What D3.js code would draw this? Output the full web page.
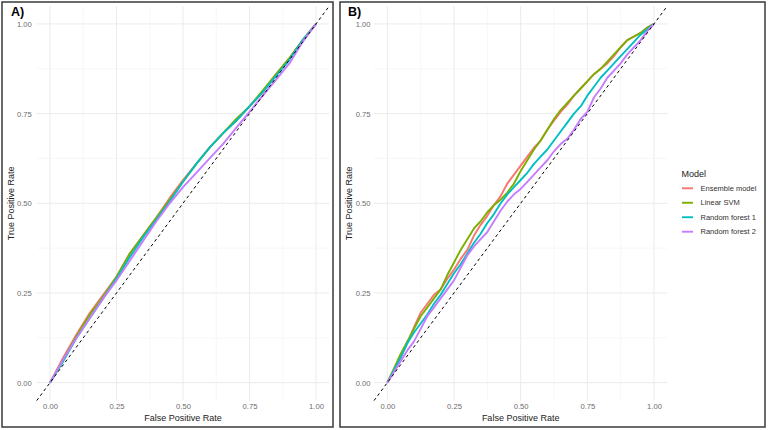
<!DOCTYPE html>
<html><head><meta charset="utf-8">
<script src="https://cdn.jsdelivr.net/npm/d3@7"></script>
<style>body{margin:0;background:#fff} svg{display:block}</style>
</head><body><svg id="c" width="768" height="430"></svg>
<script>
// ---- data ----
const models = ["Ensemble model", "Linear SVM", "Random forest 1", "Random forest 2"];
const colors = ["#F8766D", "#7CAE00", "#00BFC4", "#C77CFF"];
const tickValues = [0, 0.25, 0.5, 0.75, 1];
const tickLabels = ["0.00", "0.25", "0.50", "0.75", "1.00"];
const minorTicks = [0.125, 0.375, 0.625, 0.875];

// Panel A
const fprA = [0,.05,.1,.15,.2,.25,.3,.35,.4,.45,.5,.55,.6,.65,.7,.75,.8,.85,.9,.95,1];
const ensA = [0,.07,.135,.195,.245,.295,.36,.41,.46,.515,.565,.61,.655,.695,.73,.77,.81,.86,.905,.955,1];
const svmA = [0,.065,.13,.19,.24,.295,.36,.41,.46,.51,.56,.61,.655,.695,.735,.77,.815,.86,.905,.955,1];
const rf1A = [0,.06,.125,.18,.235,.29,.35,.405,.455,.505,.56,.61,.655,.695,.73,.77,.81,.855,.90,.955,1];
const rf2A = [0,.065,.125,.18,.235,.285,.34,.395,.45,.50,.545,.585,.625,.665,.71,.755,.80,.845,.89,.95,1];

// Panel B
const fprB = [0,.025,.05,.075,.1,.125,.15,.175,.2,.225,.25,.275,.3,.325,.35,.375,.4,.425,.45,.475,.5,
              .525,.55,.575,.6,.625,.65,.675,.7,.725,.75,.775,.8,.825,.85,.875,.9,.925,.95,.975,1];
const ensB = [0,.035,.07,.11,.155,.195,.22,.245,.26,.29,.315,.345,.37,.41,.44,.465,.495,.52,.555,.58,.605,
              .63,.655,.675,.705,.73,.755,.775,.80,.82,.84,.86,.875,.89,.91,.935,.955,.965,.975,.99,1];
const svmB = [0,.04,.08,.115,.15,.185,.21,.235,.26,.30,.335,.37,.40,.43,.45,.475,.495,.51,.53,.555,.59,
              .62,.65,.675,.705,.735,.76,.78,.80,.82,.84,.86,.875,.895,.915,.935,.955,.965,.975,.99,1];
const rf1B = [0,.035,.07,.11,.14,.165,.19,.22,.245,.275,.305,.33,.36,.39,.415,.445,.47,.50,.525,.545,.565,
              .585,.61,.63,.65,.675,.70,.725,.75,.77,.80,.825,.85,.87,.89,.91,.93,.95,.97,.985,1];
const rf2B = [0,.03,.06,.09,.115,.15,.185,.21,.235,.26,.285,.32,.355,.38,.40,.42,.45,.48,.505,.525,.54,
              .56,.58,.60,.62,.645,.665,.68,.705,.735,.755,.795,.82,.85,.87,.89,.915,.935,.955,.98,1];

const seriesA = [ensA, svmA, rf1A, rf2A];
const seriesB = [ensB, svmB, rf1B, rf2B];

// ---- drawing ----
const svg = d3.select("#c");
const FONT = "'Liberation Sans', Arial, Helvetica, sans-serif";

function panel(cfg) {
  const g = svg.append("g");
  g.append("rect").attr("x", cfg.box[0]).attr("y", cfg.box[1])
    .attr("width", cfg.box[2] - cfg.box[0]).attr("height", cfg.box[3] - cfg.box[1])
    .attr("fill", "#fff").attr("stroke", "#3a3a3a").attr("stroke-width", 1.5);

  const x = d3.scaleLinear().domain([-0.05, 1.05]).range(cfg.xr);
  const y = d3.scaleLinear().domain([-0.05, 1.05]).range(cfg.yr);

  // minor grid
  g.append("g").selectAll("line").data(minorTicks).join("line")
    .attr("x1", d => x(d)).attr("x2", d => x(d)).attr("y1", cfg.yr[0]).attr("y2", cfg.yr[1])
    .attr("stroke", "#f2f2f2").attr("stroke-width", 0.6);
  g.append("g").selectAll("line").data(minorTicks).join("line")
    .attr("y1", d => y(d)).attr("y2", d => y(d)).attr("x1", cfg.xr[0]).attr("x2", cfg.xr[1])
    .attr("stroke", "#f2f2f2").attr("stroke-width", 0.6);
  // major grid
  g.append("g").selectAll("line").data(tickValues).join("line")
    .attr("x1", d => x(d)).attr("x2", d => x(d)).attr("y1", cfg.yr[0]).attr("y2", cfg.yr[1])
    .attr("stroke", "#ebebeb").attr("stroke-width", 1);
  g.append("g").selectAll("line").data(tickValues).join("line")
    .attr("y1", d => y(d)).attr("y2", d => y(d)).attr("x1", cfg.xr[0]).attr("x2", cfg.xr[1])
    .attr("stroke", "#ebebeb").attr("stroke-width", 1);

  // axes
  const xa = g.append("g").attr("transform", `translate(0,${cfg.yr[0]})`)
    .call(d3.axisBottom(x).tickValues(tickValues).tickFormat((d, i) => tickLabels[i]).tickSize(0).tickPadding(3));
  const ya = g.append("g").attr("transform", `translate(${cfg.xr[0]},0)`)
    .call(d3.axisLeft(y).tickValues(tickValues).tickFormat((d, i) => tickLabels[i]).tickSize(0).tickPadding(cfg.ypad));
  [xa, ya].forEach(a => {
    a.select(".domain").remove();
    a.selectAll("text").attr("fill", "#6b6b6b").style("font-family", FONT).style("font-size", "7.6px");
  });

  // curves
  const line = d3.line().x(d => x(d[0])).y(d => y(d[1]));
  cfg.series.forEach((s, i) => {
    g.append("path").datum(cfg.fpr.map((f, j) => [f, s[j]]))
      .attr("d", line).attr("fill", "none").attr("stroke", colors[i])
      .attr("stroke-width", 1.9).attr("stroke-linejoin", "round");
  });

  // diagonal reference
  g.append("line").attr("x1", x(-0.05)).attr("y1", y(-0.05)).attr("x2", x(1.05)).attr("y2", y(1.05))
    .attr("stroke", "#000").attr("stroke-width", 1).attr("stroke-dasharray", "3,3");

  // titles
  g.append("text").attr("x", (cfg.xr[0] + cfg.xr[1]) / 2).attr("y", 420.5)
    .attr("text-anchor", "middle").attr("fill", "#222").style("font-family", FONT).style("font-size", "9px")
    .text("False Positive Rate");
  g.append("text").attr("transform", `translate(${cfg.ytx},${(cfg.yr[0] + cfg.yr[1]) / 2}) rotate(-90)`)
    .attr("text-anchor", "middle").attr("dominant-baseline", "central").attr("fill", "#222")
    .style("font-family", FONT).style("font-size", "9px").text("True Positive Rate");
  g.append("text").attr("x", cfg.tag[0]).attr("y", cfg.tag[1]).attr("fill", "#000")
    .style("font-family", FONT).style("font-size", "12.5px").style("font-weight", "bold").text(cfg.label);
}

panel({ box: [2, 2, 333, 427], xr: [36.7, 329.3], yr: [400.6, 6.0], series: seriesA, fpr: fprA,
        ypad: 5, ytx: 10.5, tag: [11, 15.5], label: "A)" });
panel({ box: [340, 2, 765, 427], xr: [374, 667.3], yr: [400.6, 6.0], series: seriesB, fpr: fprB,
        ypad: 3.5, ytx: 348.5, tag: [348, 15.5], label: "B)" });

// legend
const lg = svg.append("g");
lg.append("text").attr("x", 681.5).attr("y", 176.5).attr("fill", "#222")
  .style("font-family", FONT).style("font-size", "9px").text("Model");
const rowY = d3.scalePoint().domain(models).range([188.3, 231.7]);
models.forEach((m, i) => {
  lg.append("line").attr("x1", 682).attr("x2", 693).attr("y1", rowY(m)).attr("y2", rowY(m))
    .attr("stroke", colors[i]).attr("stroke-width", 1.9);
  lg.append("text").attr("x", 700.5).attr("y", rowY(m)).attr("dominant-baseline", "central")
    .attr("fill", "#333").style("font-family", FONT).style("font-size", "7.5px").text(m);
});
</script></body></html>
